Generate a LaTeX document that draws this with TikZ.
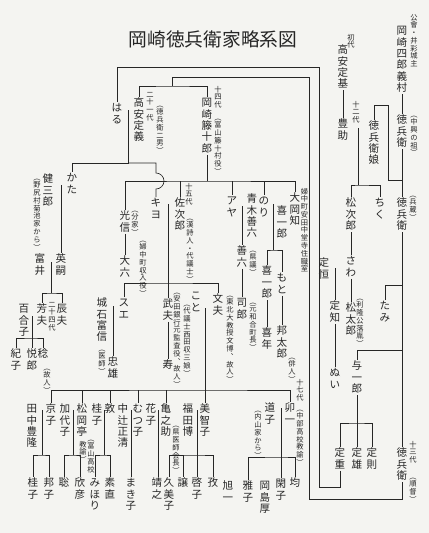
\documentclass[tikz,border=0pt]{standalone}
\usepackage{fontspec}
\setmainfont{Noto Sans CJK JP}
\definecolor{Paper}{HTML}{F4F4F1}
\definecolor{Ink}{HTML}{262626}
% vertical text: one character per line
\makeatletter
\def\tate@end{\tate@end}
\newcommand\tate[1]{\vbox{\offinterlineskip\tate@loop#1\tate@end}}
\def\tate@loop#1{\ifx\tate@end#1\else\hbox to 1em{\vrule height .88em depth .12em width 0pt\hss#1\hss}\kern.07em\expandafter\tate@loop\fi}
\makeatother
\tikzset{
  nm/.style={anchor=north,inner sep=0.3pt,text=Ink,font=\fontsize{9}{10}\selectfont},
  note/.style={anchor=north,inner sep=0.3pt,text=Ink,font=\fontsize{6.2}{7}\selectfont},
  wed/.style={double=Paper,double distance=1.3pt,line width=0.45pt},
  titletext/.style={inner sep=0pt,text=Ink,font=\fontsize{16}{18}\selectfont},
}
\begin{document}
\begin{tikzpicture}[x=0.03cm,y=-0.03cm,line width=0.55pt,draw=Ink]
    \fill[Paper] (0,0) rectangle (429,533);
    \node[titletext] (title) at (213,39) {岡崎徳兵衛家略系図};

    % top right
    \node[note] (n_shu) at (414,13) {\tate{公會・井彩城主}};
    \node[nm] (yoshimura) at (402,25) {\tate{岡崎四郎義村}};
    \node[nm] (tokubei1) at (402,114) {\tate{徳兵衛}};
    \node[note] (n_chuko) at (414,110) {\tate{︵中興の祖︶}};
    \node[note] (n_shodai) at (351,33) {\tate{初代}};
    \node[nm] (sadamoto) at (343,44) {\tate{高安定基}};
    \node[nm] (toyosuke) at (343,118) {\tate{豊助}};
    \node[note] (n_12) at (356,100) {\tate{十二代}};
    \node[nm] (musume) at (374,120) {\tate{徳兵衛娘}};
    \node[nm] (tokubei2) at (402,197) {\tate{徳兵衛}};
    \node[note] (n_hyozo) at (413,190) {\tate{︵兵蔵︶}};
    \node[nm] (chiku) at (380,197) {\tate{ちく}};
    \node[nm] (matsujiro) at (351,197) {\tate{松次郎}};
    \node[nm] (sawa) at (351,255) {\tate{さわ}};
    \node[nm] (sadatsune) at (324,257) {\tate{定恒}};
    \node[nm] (sadatomo) at (335,300) {\tate{定知}};
    \node[nm] (matsutaro) at (351,302) {\tate{松太郎}};
    \node[note] (n_rakuin) at (360,293) {\tate{︵利隆公落胤︶}};
    \node[nm] (tami) at (385,300) {\tate{たみ}};
    \node[nm] (yoichiro) at (357,360) {\tate{与一郎}};
    \node[nm] (nui) at (335,367) {\tate{ぬい}};
    \node[nm] (sadashige) at (340,447) {\tate{定重}};
    \node[nm] (sadao) at (357,447) {\tate{定雄}};
    \node[nm] (sadanori) at (372,447) {\tate{定則}};
    \node[nm] (tokubei3) at (402,447) {\tate{徳兵衛}};
    \node[note] (n_13) at (413,440) {\tate{十三代}};
    \node[note] (n_jun) at (413,472) {\tate{︵順督︶}};

    % upper left
    \node[nm] (haru) at (117,102) {\tate{はる}};
    \node[nm] (sadayoshi) at (139,97) {\tate{高安定義}};
    \node[note] (n_21) at (150,90) {\tate{二十一代}};
    \node[note] (n_jinan) at (160,100) {\tate{︵徳兵衛二男︶}};
    \node[nm] (tojuro) at (207,97) {\tate{岡崎籐十郎}};
    \node[note] (n_14) at (218,85) {\tate{十四代}};
    \node[note] (n_toyama) at (218,113) {\tate{︵富山籐十村役︶}};
    \node[nm] (kata) at (72,172) {\tate{かた}};
    \node[nm] (kenzaburo) at (48,173) {\tate{健三郎}};
    \node[note] (n_noziri) at (37,173) {\tate{︵野尻村菊池家から︶}};
    \node[nm] (eishi) at (61,253) {\tate{英嗣}};
    \node[nm] (tomii) at (40,253) {\tate{富井}};
    \node[nm] (tatsuo) at (62,303) {\tate{辰夫}};
    \node[nm] (yoshio) at (42,303) {\tate{芳夫}};
    \node[note] (n_24) at (52,300) {\tate{二十四代}};
    \node[nm] (yuriko) at (24,303) {\tate{百合子}};
    \node[nm] (noriko) at (16,348) {\tate{紀子}};
    \node[nm] (etsuro) at (32,348) {\tate{悦郎}};
    \node[nm] (minoru) at (43,348) {\tate{稔}};
    \node[note] (n_kojin) at (47,363) {\tate{︵故人︶}};

    % middle
    \node[nm] (mitsunobu) at (125,210) {\tate{光信}};
    \node[note] (n_bunke) at (135,205) {\tate{︵分家︶}};
    \node[nm] (dairoku) at (125,255) {\tate{大六}};
    \node[note] (n_shunyu) at (143,235) {\tate{︵婦中町収入役︶}};
    \node[nm] (kiyo) at (156,197) {\tate{キヨ}};
    \node[nm] (sajiro) at (180,197) {\tate{佐次郎}};
    \node[note] (n_15) at (189,182) {\tate{十五代}};
    \node[note] (n_kanshi) at (190,213) {\tate{︵漢詩人・代議士︶}};
    \node[nm] (aya) at (232,195) {\tate{アヤ}};
    \node[nm] (zenroku1) at (252,193) {\tate{青木善六}};
    \node[nm] (nori) at (264,195) {\tate{のり}};
    \node[nm] (kiichiro1) at (282,205) {\tate{喜一郎}};
    \node[nm] (ookachi) at (295,192) {\tate{大岡知}};
    \node[note] (n_jushoku) at (304.5,187) {\tate{婦中町安田中堂寺住職室}};
    \node[nm] (zenroku2) at (242,245) {\tate{善六}};
    \node[note] (n_kengi) at (253,245) {\tate{︵県議︶}};
    \node[nm] (shiro) at (242,297) {\tate{司郎}};
    \node[note] (n_wago) at (253,297) {\tate{︵元和合町長︶}};
    \node[nm] (kiichiro2) at (267,265) {\tate{喜一郎}};
    \node[nm] (moto) at (282,272) {\tate{もと}};
    \node[nm] (kinen) at (267,327) {\tate{喜年}};
    \node[nm] (kunitaro) at (282,325) {\tate{邦太郎}};
    \node[note] (n_haijin) at (292,352) {\tate{︵俳人︶}};
    \node[nm] (sue) at (124,297) {\tate{スエ}};
    \node[nm] (tominobu) at (102,297) {\tate{城石富信}};
    \node[note] (n_ishi) at (102,344) {\tate{︵医師︶}};
    \node[nm] (tadao) at (113,356) {\tate{忠雄}};
    \node[nm] (takeo) at (168,298) {\tate{武夫}};
    \node[note] (n_kansa) at (177,287) {\tate{︵安田銀行元監査役︑故人︶}};
    \node[nm] (kotobuki) at (168,359) {\tate{寿}};
    \node[nm] (koto) at (196,290) {\tate{こと}};
    \node[note] (n_nishida) at (187,299) {\tate{︵代議士西田収三娘︶}};
    \node[nm] (fumio) at (218,293) {\tate{文夫}};
    \node[note] (n_tohoku) at (230,290) {\tate{︵東北大教授文博︑故人︶}};

    % lower rows
    \node[nm] (tanaka) at (32,403) {\tate{田中豊隆}};
    \node[nm] (kyoko) at (51,403) {\tate{京子}};
    \node[nm] (kayoko) at (65,403) {\tate{加代子}};
    \node[nm] (matsuoka) at (82,403) {\tate{松岡亭}};
    \node[note] (n_kyoyu1) at (91,434) {\tate{︵富山高校}};
    \node[note] (n_kyoyu2) at (83,440) {\tate{教諭︶}};
    \node[nm] (keiko) at (97,403) {\tate{桂子}};
    \node[nm] (atsushi) at (110,403) {\tate{敦}};
    \node[nm] (nakatsuji) at (123,403) {\tate{中辻正清}};
    \node[nm] (mutsuko) at (138,403) {\tate{むつ子}};
    \node[nm] (hanako) at (151,403) {\tate{花子}};
    \node[nm] (kamenosuke) at (166,403) {\tate{亀之助}};
    \node[note] (n_ishikai) at (176,420) {\tate{︵県医師会長︶}};
    \node[nm] (fukuda) at (188,403) {\tate{福田博}};
    \node[nm] (michiko) at (205,403) {\tate{美智子}};
    \node[nm] (michi) at (270,402) {\tate{道子}};
    \node[note] (n_uchiyama) at (258,405) {\tate{︵内山家から︶}};
    \node[nm] (uichi) at (290,402) {\tate{卯一}};
    \node[note] (n_17) at (300,378) {\tate{十七代}};
    \node[note] (n_chubu) at (300,404) {\tate{︵中部高校教諭︶}};

    \node[nm] (keiko2) at (33,477) {\tate{桂子}};
    \node[nm] (kuniko) at (49,477) {\tate{邦子}};
    \node[nm] (satoshi) at (64,477) {\tate{聡}};
    \node[nm] (yoshihiko) at (80,477) {\tate{欣彦}};
    \node[nm] (mihori) at (95,477) {\tate{みほり}};
    \node[nm] (sunao) at (110,477) {\tate{素直}};
    \node[nm] (makiko) at (131,477) {\tate{まき子}};
    \node[nm] (yasuyuki) at (157,477) {\tate{靖之}};
    \node[nm] (kumiko) at (169,477) {\tate{久美子}};
    \node[nm] (yuzuru) at (183,477) {\tate{譲}};
    \node[nm] (keiko3) at (197,477) {\tate{啓子}};
    \node[nm] (osamu) at (213,477) {\tate{孜}};
    \node[nm] (kyokuichi) at (228,480) {\tate{旭一}};
    \node[nm] (masako) at (248,480) {\tate{雅子}};
    \node[nm] (okajima) at (265,480) {\tate{岡島厚}};
    \node[nm] (shizuko) at (281,478) {\tate{閑子}};
    \node[nm] (hitoshi) at (295,477) {\tate{均}};

    % junctions
    \coordinate (m_toyo) at (358,128);
    \coordinate (b_matsu) at (358,185);
    \coordinate (k_musu) at (388,105);
    \coordinate (j_toku) at (402,180);
    \coordinate (m_chiku) at (391,213);
    \coordinate (m_sawa) at (335,268);
    \coordinate (m_tami) at (369,311);
    \coordinate (k_tami) at (402,285);
    \coordinate (m_nui) at (346,377);
    \coordinate (k_yoichi) at (402,350);
    \coordinate (b_sada) at (357,423);
    \coordinate (c_a) at (309,499);
    \coordinate (c_b) at (309,77);
    \coordinate (b_sy) at (172,86);
    \coordinate (c_c) at (319,487);
    \coordinate (c_d) at (319,67);
    \coordinate (m_haru) at (128,110);
    \coordinate (j_haru) at (128,163);
    \coordinate (hop) at (156,173);
    \coordinate (m_kata) at (61,185);
    \coordinate (m_eishi) at (51,262);
    \coordinate (b_yo) at (51,293);
    \coordinate (m_yuri) at (32,316);
    \coordinate (b_yuri) at (32,338);
    \coordinate (b_to) at (207,181);
    \coordinate (m_kiyo) at (168,204);
    \coordinate (b_sue) at (168,283);
    \coordinate (m_sue) at (113,306);
    \coordinate (m_koto) at (205,308);
    \coordinate (b_koto) at (205,390);
    \coordinate (m_aya) at (242,206);
    \coordinate (m_nori) at (273,204);
    \coordinate (b_nori) at (273,250);
    \coordinate (m_tanaka) at (42,410);
    \coordinate (b_tanaka) at (42,455);
    \coordinate (m_kayoko) at (73,410);
    \coordinate (b_kayoko) at (73,455);
    \coordinate (m_keiko) at (104,410);
    \coordinate (b_keiko) at (104,455);
    \coordinate (m_naka) at (131,410);
    \coordinate (m_hana) at (158,410);
    \coordinate (m_fuku) at (197,410);
    \coordinate (b_fuku) at (197,455);
    \coordinate (m_uichi) at (281,408);
    \coordinate (b_uichi) at (281,457);
    \coordinate (m_masa) at (238,492);
    \coordinate (m_shizu) at (273,495);

    % right side lines
    \draw (yoshimura) -- (tokubei1);
    \draw (tokubei1) -- (tokubei2);
    \draw (tokubei2) -- (tokubei3);
    \draw (sadamoto) -- (toyosuke);
    \draw[wed] (toyosuke.east |- m_toyo) -- (musume.west |- m_toyo);
    \draw (m_toyo) -- (b_matsu);
    \draw (matsujiro.north) |- (b_matsu) -| (chiku.north);
    \draw (musume.north) |- (k_musu) |- (j_toku);
    \draw[wed] (chiku.east |- m_chiku) -- (tokubei2.west |- m_chiku);
    \draw (matsujiro) -- (sawa);
    \draw[wed] (sadatsune.east |- m_sawa) -- (sawa.west |- m_sawa);
    \draw (m_sawa) -- (sadatomo.north);
    \draw (sawa) -- (matsutaro);
    \draw[wed] (n_rakuin.east |- m_tami) -- (tami.west |- m_tami);
    \draw (tami.north) |- (k_tami);
    \draw (sadatomo) -- (nui);
    \draw[wed] (nui.east |- m_nui) -- (yoichiro.west |- m_nui);
    \draw (yoichiro.north) |- (k_yoichi);
    \draw (yoichiro) -- (sadao);
    \draw (sadashige.north) |- (b_sada) -| (sadanori.north);

    % long loops
    \draw (tokubei3.south) |- (c_a) -- (c_b) -| (b_sy);
    \draw (sadayoshi.north) |- (b_sy) -| (tojuro.north);
    \draw (sadashige.south) |- (c_c) -- (c_d) -| (haru.north);

    % left side lines
    \draw[wed] (haru.east |- m_haru) -- (sadayoshi.west |- m_haru);
    \draw (m_haru) -- (j_haru) -| (kata.north);
    \draw (j_haru) -| (hop) arc[start angle=90,end angle=-90,radius=0.24cm] -- (kiyo.north);
    \draw[wed] (kenzaburo.east |- m_kata) -- (kata.west |- m_kata);
    \draw (m_kata) -- (eishi.north);
    \draw[wed] (tomii.east |- m_eishi) -- (eishi.west |- m_eishi);
    \draw (m_eishi) -- (b_yo);
    \draw (yoshio.north) |- (b_yo) -| (tatsuo.north);
    \draw[wed] (yuriko.east |- m_yuri) -- (yoshio.west |- m_yuri);
    \draw (m_yuri) -- (etsuro.north);
    \draw (noriko.north) |- (b_yuri) -| (minoru.north);

    % middle lines
    \draw (tojuro) -- (b_to);
    \draw (mitsunobu.north) |- (b_to) -| (ookachi.north);
    \foreach \k in {sajiro,aya,nori}
      \draw (\k.north) -- (\k.north |- b_to);
    \draw (mitsunobu) -- (dairoku);
    \draw[wed] (kiyo.east |- m_kiyo) -- (sajiro.west |- m_kiyo);
    \draw (m_kiyo) -- (takeo.north);
    \draw (sue.north) |- (b_sue) -| (fumio.north);
    \draw[wed] (tominobu.east |- m_sue) -- (sue.west |- m_sue);
    \draw (m_sue) -- (tadao.north);
    \draw (takeo) -- (kotobuki);
    \draw[wed] (koto.east |- m_koto) -- (fumio.west |- m_koto);
    \draw (m_koto) -- (b_koto);
    \draw (kyoko.north) |- (b_koto) -| (uichi.north);
    \foreach \k in {matsuoka,atsushi,mutsuko,kamenosuke,michiko}
      \draw (\k.north) -- (\k.north |- b_koto);
    \draw[wed] (aya.east |- m_aya) -- (zenroku1.west |- m_aya);
    \draw (m_aya) -- (zenroku2.north);
    \draw (zenroku2) -- (shiro);
    \draw[wed] (nori.east |- m_nori) -- (kiichiro1.west |- m_nori);
    \draw (m_nori) -- (b_nori);
    \draw (kiichiro2.north) |- (b_nori) -| (moto.north);
    \draw (kiichiro2) -- (kinen);
    \draw (moto) -- (kunitaro);

    % bottom lines
    \draw[wed] (tanaka.east |- m_tanaka) -- (kyoko.west |- m_tanaka);
    \draw (m_tanaka) -- (b_tanaka);
    \draw (keiko2.north) |- (b_tanaka) -| (kuniko.north);
    \draw[wed] (kayoko.east |- m_kayoko) -- (matsuoka.west |- m_kayoko);
    \draw (m_kayoko) -- (b_kayoko);
    \draw (satoshi.north) |- (b_kayoko) -| (yoshihiko.north);
    \draw[wed] (keiko.east |- m_keiko) -- (atsushi.west |- m_keiko);
    \draw (m_keiko) -- (b_keiko);
    \draw (mihori.north) |- (b_keiko) -| (sunao.north);
    \draw[wed] (nakatsuji.east |- m_naka) -- (mutsuko.west |- m_naka);
    \draw (m_naka) -- (makiko.north);
    \draw[wed] (hanako.east |- m_hana) -- (kamenosuke.west |- m_hana);
    \draw (m_hana) -- (m_hana |- yasuyuki.north);
    \draw[wed] (fukuda.east |- m_fuku) -- (michiko.west |- m_fuku);
    \draw (m_fuku) -- (b_fuku);
    \draw (kumiko.north) |- (b_fuku) -| (osamu.north);
    \foreach \k in {yuzuru,keiko3}
      \draw (\k.north) -- (\k.north |- b_fuku);
    \draw[wed] (michi.east |- m_uichi) -- (uichi.west |- m_uichi);
    \draw (m_uichi) -- (shizuko.north);
    \draw (masako.north) |- (b_uichi) -| (hitoshi.north);
    \draw[wed] (kyokuichi.east |- m_masa) -- (masako.west |- m_masa);
    \draw[wed] (okajima.east |- m_shizu) -- (shizuko.west |- m_shizu);
\end{tikzpicture}
\end{document}
